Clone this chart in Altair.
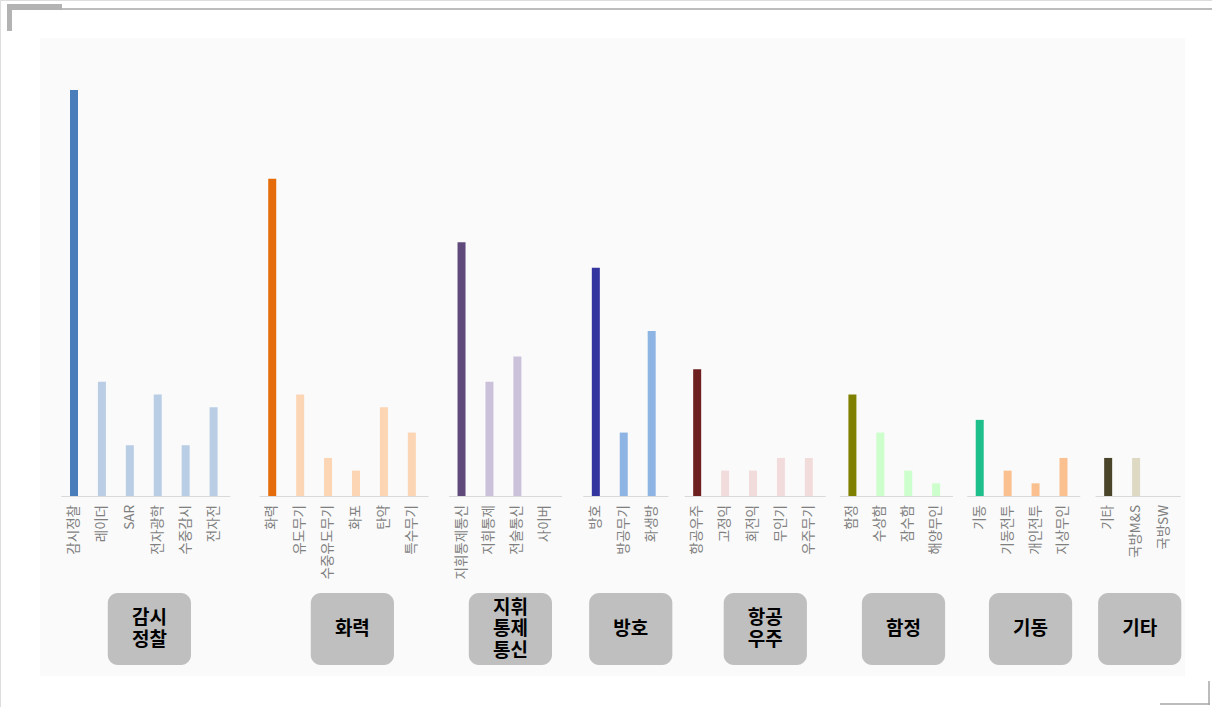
import altair as alt
import pandas as pd

# ---- data ----
groups = ["감시정찰", "화력", "지휘통제통신", "방호", "항공우주", "함정", "기동", "기타"]
box_labels = ["감시\n정찰", "화력", "지휘\n통제\n통신", "방호", "항공\n우주", "함정", "기동", "기타"]
items = [
    ["감시정찰", "레이더", "SAR", "전자광학", "수중감시", "전자전"],
    ["화력", "유도무기", "수중유도무기", "화포", "탄약", "특수무기"],
    ["지휘통제통신", "지휘통제", "전술통신", "사이버"],
    ["방호", "방공무기", "화생방"],
    ["항공우주", "고정익", "회전익", "무인기", "우주무기"],
    ["함정", "수상함", "잠수함", "해양무인"],
    ["기동", "기동전투", "개인전투", "지상무인"],
    ["기타", "국방M&S", "국방SW"],
]
values = [
    [32, 9, 4, 8, 4, 7],
    [25, 8, 3, 2, 7, 5],
    [20, 9, 11, 0],
    [18, 5, 13],
    [10, 2, 2, 3, 3],
    [8, 5, 2, 1],
    [6, 2, 1, 3],
    [3, 3, 0],
]
main_colors = ["#4a7ebb", "#e46c0a", "#604a7b", "#3535a0", "#6e1f1f", "#808000", "#1fbf8c", "#4a452a"]
sub_colors = ["#b9cde5", "#fcd5b5", "#ccc1da", "#8eb4e3", "#f2dcdb", "#ccffcc", "#fac090", "#ddd9c3"]

# layout: extra empty slots before each group (style, not data)
group_gaps = [0.0, 1.10, 0.78, 0.81, 0.63, 0.56, 0.56, 0.60]
box_shift = [0.2, 0.37, 0.25, 0.25, 0.44, 0.33, 0.32, 0.13]

rows = []
grows = []
pos = -1.0
for gi, (g, its, vals) in enumerate(zip(groups, items, values)):
    pos += group_gaps[gi]
    positions = []
    for j, (it, v) in enumerate(zip(its, vals)):
        pos += 1
        positions.append(pos)
        rows.append({"group": g, "item": it, "value": v, "pos": pos,
                     "color": main_colors[gi] if j == 0 else sub_colors[gi]})
    center = (positions[0] + positions[-1]) / 2 + box_shift[gi]
    grows.append({"group": g, "label": box_labels[gi],
                  "nlines": box_labels[gi].count("\n") + 1,
                  "a0": positions[0] - 0.45, "a1": positions[-1] + 0.6,
                  "b0": center - 1.49, "b1": center + 1.49, "bc": center})

df = pd.DataFrame(rows)
gdf = pd.DataFrame(grows)

xs = alt.Scale(domain=[df["pos"].min(), df["pos"].max()], range=[69, 1169], nice=False, zero=False)
ys = alt.Scale(domain=[0, 32], range=[496, 90], nice=False)

FONT = "Noto Sans CJK KR"

deco = pd.DataFrame({"k": [0]})

bg = alt.Chart(deco).mark_rect(color="#fafafa").encode(
    x=alt.value(40), x2=alt.value(1185), y=alt.value(38), y2=alt.value(676))

top_line = alt.Chart(deco).mark_rule(color="#a6a6a6", strokeWidth=1.5).encode(
    x=alt.value(60), x2=alt.value(1212), y=alt.value(9))
br_h = alt.Chart(deco).mark_rect(color="#b3b3b3").encode(
    x=alt.value(7), x2=alt.value(62), y=alt.value(4), y2=alt.value(10))
br_v = alt.Chart(deco).mark_rect(color="#b3b3b3").encode(
    x=alt.value(7), x2=alt.value(12), y=alt.value(4), y2=alt.value(31))
bt_h = alt.Chart(deco).mark_rule(color="#a6a6a6", strokeWidth=1.5).encode(
    x=alt.value(1160), x2=alt.value(1210), y=alt.value(704))
bt_v = alt.Chart(deco).mark_rule(color="#a6a6a6", strokeWidth=1.5).encode(
    x=alt.value(1209), y=alt.value(681), y2=alt.value(705))

axis_lines = alt.Chart(gdf).mark_rule(color="#d9d9d9", strokeWidth=1).encode(
    x=alt.X("a0:Q", scale=xs, axis=None), x2="a1:Q", y=alt.value(496.5))

bars = alt.Chart(df).mark_bar(size=8, orient="vertical").encode(
    x=alt.X("pos:Q", scale=xs, axis=None),
    y=alt.Y("value:Q", scale=ys, axis=None),
    color=alt.Color("color:N", scale=None),
)

labels = alt.Chart(df).mark_text(
    angle=270, align="right", baseline="middle", font=FONT, fontSize=13.5, color="#7f7f7f"
).encode(x=alt.X("pos:Q", scale=xs, axis=None), y=alt.value(505), text="item:N")

boxes = alt.Chart(gdf).mark_rect(color="#bfbfbf", cornerRadius=10).encode(
    x=alt.X("b0:Q", scale=xs, axis=None), x2="b1:Q", y=alt.value(593), y2=alt.value(665))

LH = 21.5
box_texts = []
for n in (1, 2, 3):
    box_texts.append(
        alt.Chart(gdf).transform_filter(alt.datum.nlines == n).mark_text(
            font=FONT, fontSize=19, fontWeight="bold", color="#000000", lineBreak="\n",
            lineHeight=LH, align="center", baseline="middle"
        ).encode(x=alt.X("bc:Q", scale=xs, axis=None),
                 y=alt.value(629 - (n - 1) * LH / 2), text="label:N")
    )

chart = alt.layer(
    bg, top_line, br_h, br_v, bt_h, bt_v, axis_lines, bars, labels, boxes, *box_texts
).properties(
    width=1212, height=707, padding=0, autosize=alt.AutoSizeParams(type="none")
).configure_view(stroke=None).configure(background="#ffffff")

chart.save("out.html", embed_options={"renderer": "svg", "actions": False})
